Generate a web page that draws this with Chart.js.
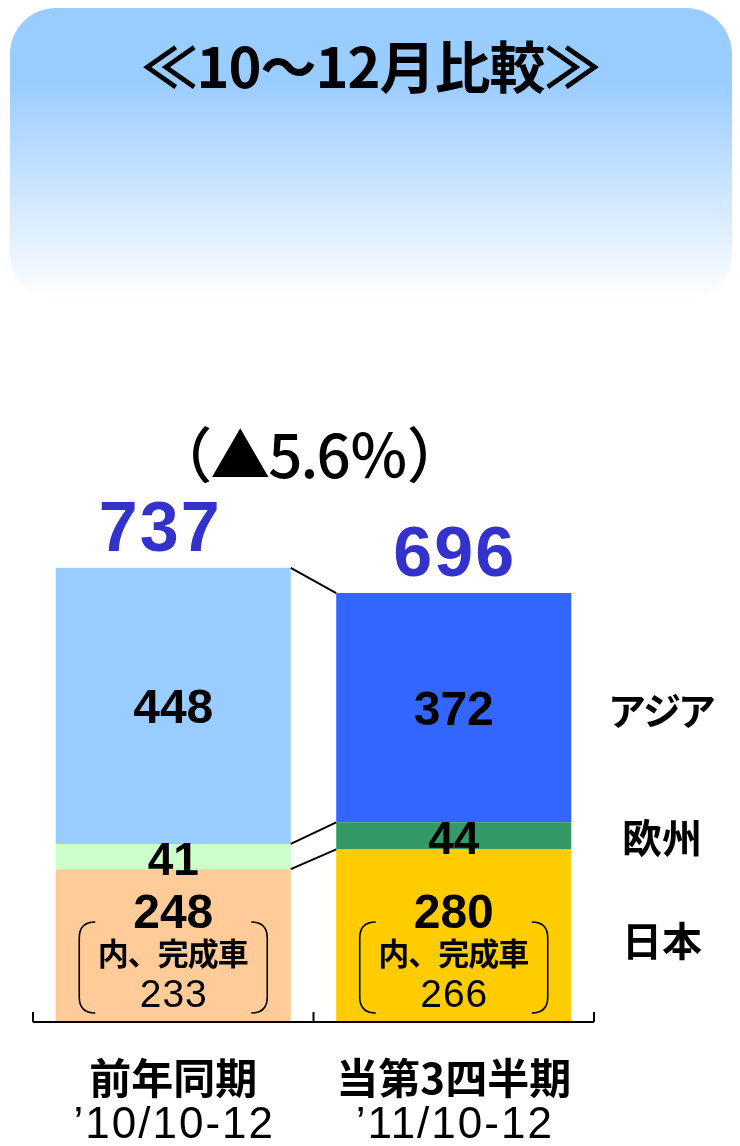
<!DOCTYPE html>
<html lang="ja">
<head>
<meta charset="utf-8">
<title>10～12月比較</title>
<script src="https://cdn.jsdelivr.net/npm/chart.js@4.4.1/dist/chart.umd.min.js"></script>
<style>
  html, body { margin: 0; padding: 0; background: #fff; }
  canvas { display: block; }
</style>
</head>
<body>
<canvas id="chart" width="740" height="1146"></canvas>
<script>
/* ---------- data ---------- */
const titleText = "≪10～12月比較≫";
const changeText = "（▲5.6％）";
const periods = ["前年同期", "当第3四半期"];
const periodDates = ["’10/10-12", "’11/10-12"];
const regions = ["日本", "欧州", "アジア"];
const japanValues = [248, 280];
const europeValues = [41, 44];
const asiaValues = [448, 372];
const finishedCarLabel = "内、完成車";
const finishedCarValues = [233, 266];
const totals = [737, 696];

/* ---------- colours ---------- */
const japanColors = ["#FFCC99", "#FFCC00"];
const europeColors = ["#CCFFCC", "#339966"];
const asiaColors = ["#99CCFF", "#3366FF"];

const JP = "'Noto Sans CJK JP', sans-serif";
const LAT = "'Liberation Sans', Arial, sans-serif";

// text centred on (cx, cy) by ink, roughly
function label(ctx, str, cx, cy, size, weight, family, color, spacing) {
    ctx.font = `${weight} ${size}px ${family}`;
    ctx.fillStyle = color || "#000";
    ctx.textAlign = "center";
    ctx.textBaseline = "alphabetic";
    ctx.letterSpacing = (spacing || 0) + "px";
    ctx.fillText(str, cx + (spacing || 0) / 2, cy + size * 0.36);
    ctx.letterSpacing = "0px";
}

function bracket(ctx, x, top, bottom, dir) {
    const r = 16;
    ctx.beginPath();
    ctx.moveTo(x + dir * r, top);
    ctx.quadraticCurveTo(x, top, x, top + r);
    ctx.lineTo(x, bottom - r);
    ctx.quadraticCurveTo(x, bottom, x + dir * r, bottom);
    ctx.stroke();
}

const overlayPlugin = {
    id: "overlay",
    beforeDraw(chart) {
        const { ctx, width, height } = chart;
        ctx.save();
        ctx.fillStyle = "#fff";
        ctx.fillRect(0, 0, width, height);

        const g = ctx.createLinearGradient(0, 8, 0, 300);
        g.addColorStop(0, "#99CCFF");
        g.addColorStop(0.25, "#99CCFF");
        g.addColorStop(1, "#FFFFFF");
        ctx.fillStyle = g;
        ctx.beginPath();
        ctx.roundRect(10, 8, 722, 292, 46);
        ctx.fill();

        label(ctx, titleText, 371, 68, 56, "bold", JP, "#000", -1);
        ctx.restore();
    },
    afterDatasetsDraw(chart) {
        const { ctx, chartArea } = chart;
        const japan = chart.getDatasetMeta(0).data;
        const europe = chart.getDatasetMeta(1).data;
        const asia = chart.getDatasetMeta(2).data;

        ctx.save();
        ctx.strokeStyle = "#000";
        ctx.lineWidth = 2;

        // axis line with upward ticks
        const yb = chartArea.bottom;
        const mid = (chartArea.left + chartArea.right) / 2;
        ctx.beginPath();
        ctx.moveTo(chartArea.left, yb);
        ctx.lineTo(chartArea.right, yb);
        [chartArea.left, mid, chartArea.right].forEach(x => {
            ctx.moveTo(x, yb);
            ctx.lineTo(x, yb - 10);
        });
        ctx.stroke();

        // connectors between the two bars
        ctx.beginPath();
        [asia, europe, japan].forEach(els => {
            const a = els[0], b = els[1];
            ctx.moveTo(a.x + a.width / 2, a.y);
            ctx.lineTo(b.x - b.width / 2, b.y);
        });
        ctx.stroke();

        for (let i = 0; i < 2; i++) {
            const j = japan[i], e = europe[i], a = asia[i];
            const cx = j.x;

            label(ctx, String(asiaValues[i]), cx, (a.y + a.base) / 2, 48, "bold", LAT);
            label(ctx, String(europeValues[i]), cx, (e.y + e.base) / 2 + 2, 46, "bold", LAT);
            label(ctx, String(japanValues[i]), cx, j.base - 111, 48, "bold", LAT);
            label(ctx, finishedCarLabel, cx, j.base - 68, 31, "bold", JP, "#000", -1);
            label(ctx, String(finishedCarValues[i]), cx, j.base - 29, 39, "normal", LAT, "#000", 1);

            ctx.lineWidth = 1.6;
            bracket(ctx, cx - 94, j.base - 100, j.base - 9, 1);
            bracket(ctx, cx + 94, j.base - 100, j.base - 9, -1);

            label(ctx, String(totals[i]), cx - (i === 0 ? 14 : 0), a.y - 42, 70, "bold", LAT, "#3333CC", 2);

            label(ctx, periods[i], cx, 1079, 42, "bold", JP);
            label(ctx, periodDates[i], cx, 1122, 44, "normal", LAT, "#000", 2);
        }

        label(ctx, changeText, (japan[0].x + japan[1].x) / 2 - 4, asia[0].y - 111, 60, "500", JP, "#000", -2);

        // region names on the right
        const rx = chartArea.right + 68;
        label(ctx, regions[2], rx, (asia[1].y + asia[1].base) / 2 + 4, 38, "bold", JP, "#000", -3);
        label(ctx, regions[1], rx, (europe[1].y + europe[1].base) / 2 + 3, 40, "bold", JP);
        label(ctx, regions[0], rx, (japan[1].y + japan[1].base) / 2 + 6, 40, "bold", JP);

        ctx.restore();
    }
};

new Chart(document.getElementById("chart"), {
    type: "bar",
    data: {
        labels: periods,
        datasets: [
            { label: regions[0], data: japanValues, backgroundColor: japanColors },
            { label: regions[1], data: europeValues, backgroundColor: europeColors },
            { label: regions[2], data: asiaValues, backgroundColor: asiaColors }
        ]
    },
    options: {
        responsive: false,
        animation: false,
        devicePixelRatio: 1,
        layout: { padding: { left: 33, right: 146, top: 529, bottom: 124 } },
        datasets: {
            bar: { categoryPercentage: 1, barPercentage: 0.838, borderWidth: 0 }
        },
        plugins: {
            legend: { display: false },
            tooltip: { enabled: false }
        },
        scales: {
            x: { stacked: true, display: false, offset: true },
            y: { stacked: true, display: false, min: 0, max: 800 }
        }
    },
    plugins: [overlayPlugin]
});
</script>
</body>
</html>
